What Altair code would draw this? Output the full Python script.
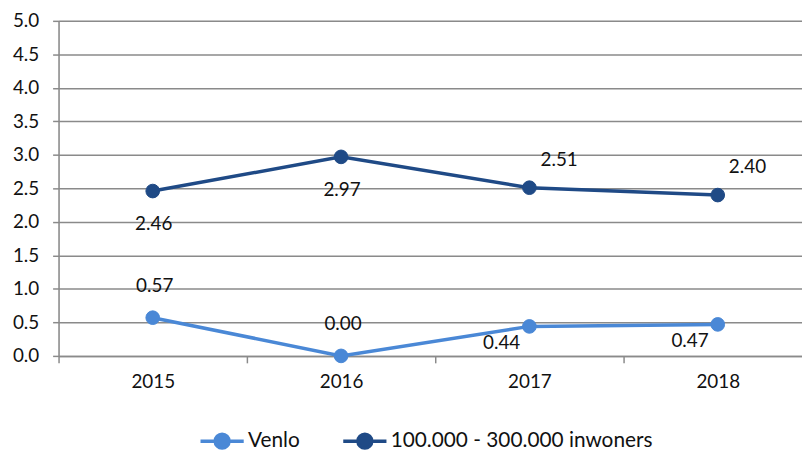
import altair as alt
import pandas as pd

years = ["2015", "2016", "2017", "2018"]
series_names = ["Venlo", "100.000 - 300.000 inwoners"]
venlo = [0.57, 0.00, 0.44, 0.47]
group = [2.46, 2.97, 2.51, 2.40]
y_ticks = [0, 0.5, 1.0, 1.5, 2.0, 2.5, 3.0, 3.5, 4.0, 4.5, 5.0]

# label placement style (Excel-like)
venlo_pos = ["above", "above", "belowleft", "belowleft"]
group_pos = ["below", "below", "aboveright", "aboveright"]

colors = ["#4a88d6", "#1f4a86"]
FONT = "Lato"
FS = 19

rows = []
for i, y in enumerate(years):
    rows.append({"year": y, "series": series_names[0], "value": venlo[i], "pos": venlo_pos[i]})
    rows.append({"year": y, "series": series_names[1], "value": group[i], "pos": group_pos[i]})
df = pd.DataFrame(rows)

x_enc = alt.X("year:O", bandPosition=0.5,
              scale=alt.Scale(type="band", paddingInner=0, paddingOuter=0, range=[0, 760]),
              axis=alt.Axis(title=None, tickBand="extent", labelAngle=0,
                            labelFont=FONT, labelFontSize=FS, labelColor="#111",
                            labelPadding=10, domainColor="#8a8a8a", domainWidth=1.5,
                            tickColor="#8a8a8a", tickWidth=1.5, tickSize=7, grid=False))
y_enc = alt.Y("value:Q", scale=alt.Scale(domain=[0, 5]),
              axis=alt.Axis(title=None, values=y_ticks, format=".1f",
                            labelFont=FONT, labelFontSize=FS, labelColor="#111",
                            labelPadding=14, domainColor="#8a8a8a", domainWidth=1.5,
                            tickColor="#8a8a8a", tickWidth=1.5, tickSize=6,
                            grid=True, gridColor="#8a8a8a", gridWidth=1.5))

sym_path = "M-1,0H1M0.32,0A0.32,0.32,0,1,1,-0.32,0A0.32,0.32,0,1,1,0.32,0Z"
legend = alt.Legend(title=None, orient="none", legendX=141, legendY=400,
                    direction="horizontal", symbolType=sym_path, symbolSize=1900,
                    symbolStrokeWidth=3.5, labelFont=FONT, labelFontSize=21,
                    labelColor="#111", columnPadding=36, labelOffset=2,
                    labelLimit=500)
cscale = alt.Scale(domain=series_names, range=colors)

base = alt.Chart(df)
lines = base.mark_line(strokeWidth=3.5).encode(
    x=x_enc, y=y_enc,
    stroke=alt.Stroke("series:N", scale=cscale, legend=legend, sort=series_names))
points = base.mark_point(filled=True, size=190, opacity=1, strokeWidth=1).encode(
    x=x_enc, y=y_enc,
    fill=alt.Fill("series:N", scale=cscale, legend=legend, sort=series_names),
    stroke=alt.Stroke("series:N", scale=cscale, legend=legend, sort=series_names))

def labels(pos, dx, dy):
    return base.transform_filter(alt.datum.pos == pos).mark_text(
        font=FONT, fontSize=FS, color="#111", dx=dx, dy=dy).encode(
        x=x_enc, y=y_enc, text=alt.Text("value:Q", format=".2f"))

chart = alt.layer(
    lines, points,
    labels("above", 2, -32),
    labels("below", 1, 33),
    labels("belowleft", -28, 17),
    labels("aboveright", 30, -28),
).properties(
    width=750, height=338,
    autosize=alt.AutoSizeParams(type="none"),
    padding={"left": 51, "top": 11, "right": 0, "bottom": 96},
).configure_view(stroke=None).configure(background="white")

chart.save("out.html", embed_options={"renderer": "svg", "actions": False})
